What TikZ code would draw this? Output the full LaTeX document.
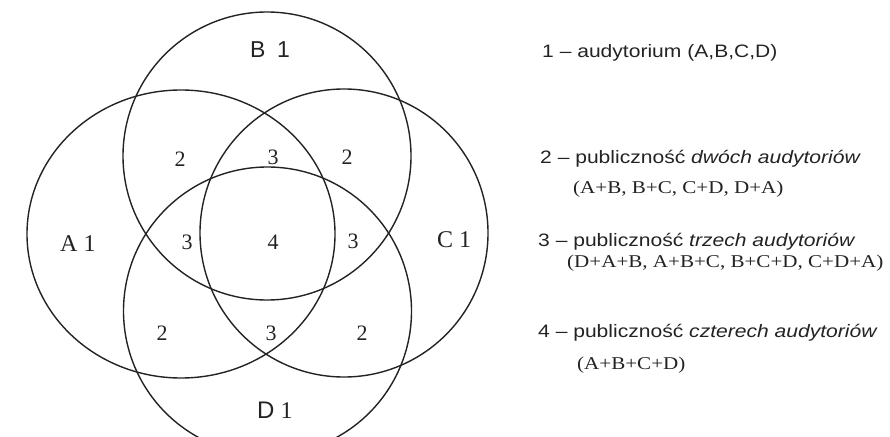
\documentclass[tikz,border=0pt]{standalone}
\usepackage{fontspec}
\setmainfont{Liberation Serif}
\setsansfont{Liberation Sans}
\newfontfamily\legsans[FakeStretch=1.17]{Liberation Sans}
\newfontfamily\legserif[FakeStretch=1.17]{Liberation Serif}
\definecolor{ink}{RGB}{35,35,35}

\begin{document}
\begin{tikzpicture}
[   x=1pt, y=-1pt,
    setline/.style={draw=ink,line width=1.4pt},
    num/.style={text=ink,font=\fontsize{22}{26}\selectfont},
    setlab/.style={text=ink,anchor=base west,inner sep=0pt,font=\fontsize{24}{28}\selectfont},
    legmain/.style={text=ink,anchor=base west,inner sep=0pt,font=\fontsize{18}{22}\legsans},
    legsub/.style={text=ink,anchor=base west,inner sep=0pt,font=\fontsize{18}{22}\legserif},
]
    \useasboundingbox (0,0) rectangle (890,436);

    % the four audiences
    \begin{scope}
        \clip (0,0) rectangle (890,436);
        \draw[setline] (181,234) ellipse (154 and 144);   % A
        \draw[setline] (267,156) circle (144);            % B
        \draw[setline] (344,233) ellipse (144 and 144);   % C
        \draw[setline] (267.5,311) circle (144);          % D
    \end{scope}

    \node[setlab] (labA) at (60,251) {A 1};
    \node[setlab,font=\fontsize{23}{27}\sffamily] (labB) at (250,57) {B\hspace{0.5em}1};
    \node[setlab] (labC) at (437,247) {C 1};
    \node[setlab] (labD) at (257,418) {{\sffamily D} 1};

    % overlap counts
    \foreach \x/\y/\t [count=\i] in {180/159/2, 273/157/3, 347/157/2,
                                      187/242/3, 273/242/4, 353/241/3,
                                      162/333/2, 271/333/3, 362/333/2}
    {   \node[num] (n-\i) at (\x,\y) {\t};
    }

    % legend
    \node[legmain] (leg1)  at (542,57)  {1 – audytorium (A,B,C,D)};
    \node[legmain] (leg2)  at (540,163) {2 – publiczność \textit{dwóch audytoriów}};
    \node[legsub]  (leg2b) at (573,193) {(A+B, B+C, C+D, D+A)};
    \node[legmain] (leg3)  at (538,246) {3 – publiczność \textit{trzech audytoriów}};
    \node[legsub]  (leg3b) at (567,267) {(D+A+B, A+B+C, B+C+D, C+D+A)};
    \node[legmain] (leg4)  at (538,337) {4 – publiczność \textit{czterech audytoriów}};
    \node[legsub]  (leg4b) at (577,369) {(A+B+C+D)};
\end{tikzpicture}
\end{document}
